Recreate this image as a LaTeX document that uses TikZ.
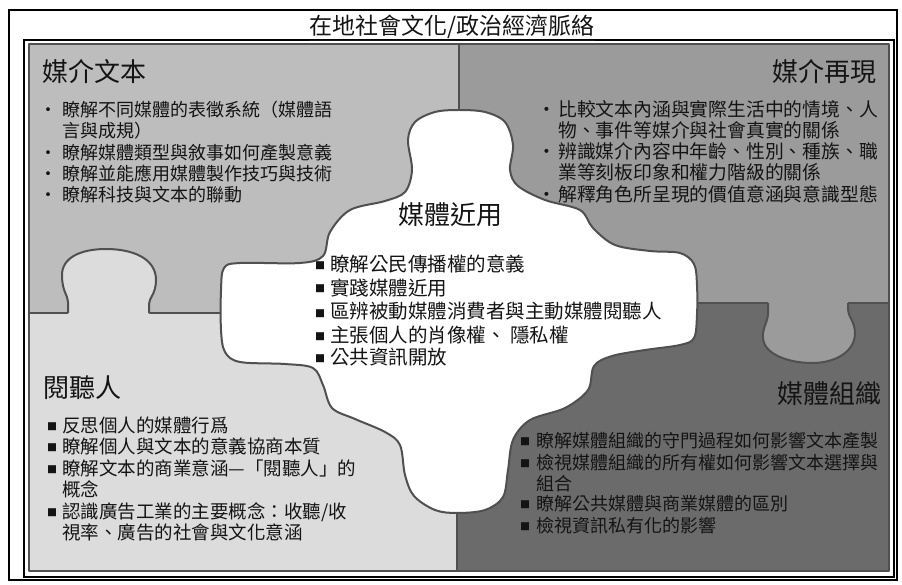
\documentclass[tikz,border=0pt]{standalone}
\usepackage{fontspec}
\setmainfont{Noto Sans CJK TC}
\definecolor{cTL}{HTML}{BDBDBD}
\definecolor{cTR}{HTML}{9B9B9B}
\definecolor{cBL}{HTML}{DCDCDC}
\definecolor{cBR}{HTML}{6B6B6B}
\definecolor{cEdge}{HTML}{505050}
\definecolor{cInk}{HTML}{141414}
\tikzset{
  edge/.style={draw=cEdge, line width=2pt, line join=round},
  frame/.style={draw=black, line width=1.2pt},
  txt/.style={anchor=base west, inner sep=0pt, text=cInk, font=\fontsize{#1}{#1}\selectfont},
  head/.style={inner sep=0pt, text=cInk, font=\fontsize{26}{26}\selectfont},
  dotb/.style={anchor=base, inner sep=0pt, text=cInk, font=\fontsize{#1}{#1}\selectfont},
  sqb/.style={anchor=base, inner sep=0pt, text=cInk, font=\fontsize{10}{10}\selectfont},
}
\begin{document}
\begin{tikzpicture}[x=1pt,y=-1pt]
\useasboundingbox (0,0) rectangle (902,585);
\fill[white] (0,0) rectangle (902,585);
% frames
\draw[frame] (9,10) rectangle (897,580);
\draw[frame] (24,40) rectangle (894,577);
% title
\node[inner sep=0pt, anchor=base, text=cInk, font=\fontsize{23}{23}\selectfont] (title) at (452,35) {\underline{在地社會文化/政治經濟脈絡}};
% quadrants
\fill[cTL] (29,44) rectangle (459,313);
\fill[cTR] (459,44) rectangle (889,303);
\fill[cBL] (29,313) rectangle (457,571);
\fill[cBR] (457,303) rectangle (889,571);
% division lines
\draw[edge] (459,44) -- (459,200);
\draw[edge] (29,313) -- (300,313);
\draw[edge] (600,303) -- (889,303);
\draw[edge] (457,450) -- (457,571);
% left tab
\fill[cBL] (68,315) -- (68,302) .. controls (68,295) and (62,292) .. (62,275) .. controls (62,258) and (80,249) .. (106,249) .. controls (132,249) and (156,258) .. (156,280) .. controls (156,294) and (149,298) .. (149,304) -- (149,315) -- cycle;
\draw[edge] (68,313) -- (68,302) .. controls (68,295) and (62,292) .. (62,275) .. controls (62,258) and (80,249) .. (106,249) .. controls (132,249) and (156,258) .. (156,280) .. controls (156,294) and (149,298) .. (149,304) -- (149,313);
% right tab
\fill[cTR] (768,301) -- (768,313) .. controls (768,322) and (762,328) .. (763,338) .. controls (764,355) and (790,363) .. (812,363) .. controls (835,363) and (855,352) .. (855,333) .. controls (855,322) and (848,316) .. (848,310) -- (848,301) -- cycle;
\draw[edge] (768,303) -- (768,313) .. controls (768,322) and (762,328) .. (763,338) .. controls (764,355) and (790,363) .. (812,363) .. controls (835,363) and (855,352) .. (855,333) .. controls (855,322) and (848,316) .. (848,310) -- (848,303);
% puzzle border
\draw[edge] (29,44) rectangle (889,571);
% center piece
\draw[edge, fill=white] plot[smooth cycle, tension=0.55] coordinates {
 (459,110) (485,112) (505,122) (513,145) (510,170) (518,186) (545,200) (580,210)
 (593,228) (615,245) (650,251) (680,253) (694,264) (697,285) (697,315) (694,338)
 (680,345) (645,350) (612,356) (594,366) (588,390) (565,408) (530,420) (513,440)
 (508,470) (503,497) (485,510) (457,513) (435,510) (414,496) (405,475) (400,445)
 (385,432) (355,419) (332,408) (323,385) (313,368) (285,364) (240,362) (225,352)
 (221,330) (221,290) (224,268) (240,263) (300,263) (323,256) (330,232) (350,210)
 (385,201) (405,192) (412,170) (408,140) (415,122) (435,112)};
% ---- top-left: 媒介文本
\node[head, anchor=base west] (hTL) at (42,82) {媒介文本};
\node[dotb=18] (bTL1) at (48,117) {・};
\node[txt=18] (tTL1) at (62,117) {瞭解不同媒體的表徵系統（媒體語};
\node[txt=18] (tTL2) at (62,138) {言與成規）};
\node[dotb=18] (bTL3) at (48,160) {・};
\node[txt=18] (tTL3) at (62,160) {瞭解媒體類型與敘事如何產製意義};
\node[dotb=18] (bTL4) at (48,181) {・};
\node[txt=18] (tTL4) at (62,181) {瞭解並能應用媒體製作技巧與技術};
\node[dotb=18] (bTL5) at (48,202) {・};
\node[txt=18] (tTL5) at (62,202) {瞭解科技與文本的聯動};
% ---- top-right: 媒介再現
\node[head, anchor=base east] (hTR) at (877,82) {媒介再現};
\node[dotb=18.8] (bTR1) at (547,117) {・};
\node[txt=18.8] (tTR1) at (558,117) {比較文本內涵與實際生活中的情境、人};
\node[txt=18.8] (tTR2) at (558,138) {物、事件等媒介與社會真實的關係};
\node[dotb=18.8] (bTR3) at (547,159) {・};
\node[txt=18.8] (tTR3) at (558,159) {辨識媒介內容中年齡、性別、種族、職};
\node[txt=18.8] (tTR4) at (558,180) {業等刻板印象和權力階級的關係};
\node[dotb=18.8] (bTR5) at (547,202) {・};
\node[txt=18.8] (tTR5) at (558,202) {解釋角色所呈現的價值意涵與意識型態};
% ---- center: 媒體近用
\node[head, anchor=base] (hC) at (450,225) {媒體近用};
\node[sqb] (bC1) at (320,270) {■};
\node[txt=19.5] (tC1) at (330,272) {瞭解公民傳播權的意義};
\node[sqb] (bC2) at (320,293) {■};
\node[txt=19.5] (tC2) at (330,295) {實踐媒體近用};
\node[sqb] (bC3) at (320,317) {■};
\node[txt=19.5] (tC3) at (330,319) {區辨被動媒體消費者與主動媒體閱聽人};
\node[sqb] (bC4) at (320,340) {■};
\node[txt=19.5] (tC4) at (330,342) {主張個人的肖像權、 隱私權};
\node[sqb] (bC5) at (320,362) {■};
\node[txt=19.5] (tC5) at (330,364) {公共資訊開放};
% ---- bottom-left: 閱聽人
\node[head, anchor=base west] (hBL) at (43,397) {閱聽人};
\node[sqb] (bBL1) at (52,430) {■};
\node[txt=18.5] (tBL1) at (62,432) {反思個人的媒體行爲};
\node[sqb] (bBL2) at (52,451) {■};
\node[txt=18.5] (tBL2) at (62,453) {瞭解個人與文本的意義協商本質};
\node[sqb] (bBL3) at (52,473) {■};
\node[txt=18.5] (tBL3) at (62,475) {瞭解文本的商業意涵—「閱聽人」的};
\node[txt=18.5] (tBL4) at (62,496) {概念};
\node[sqb] (bBL5) at (52,516) {■};
\node[txt=18.5] (tBL5) at (62,518) {認識廣告工業的主要概念：收聽/收};
\node[txt=18.5] (tBL6) at (62,539) {視率、廣告的社會與文化意涵};
% ---- bottom-right: 媒體組織
\node[head, anchor=base east] (hBR) at (882,403) {媒體組織};
\node[sqb] (bBR1) at (525,445) {■};
\node[txt=18] (tBR1) at (536,447) {瞭解媒體組織的守門過程如何影響文本產製};
\node[sqb] (bBR2) at (525,467) {■};
\node[txt=18] (tBR2) at (536,469) {檢視媒體組織的所有權如何影響文本選擇與};
\node[txt=18] (tBR3) at (536,490) {組合};
\node[sqb] (bBR4) at (525,508) {■};
\node[txt=18] (tBR4) at (536,510) {瞭解公共媒體與商業媒體的區別};
\node[sqb] (bBR5) at (525,530) {■};
\node[txt=18] (tBR5) at (536,532) {檢視資訊私有化的影響};
\end{tikzpicture}
\end{document}
